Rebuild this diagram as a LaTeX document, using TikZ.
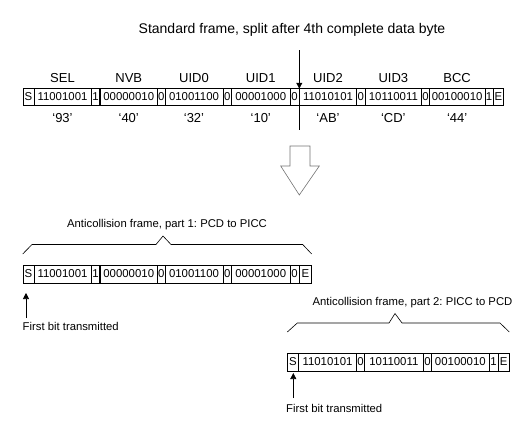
\documentclass[tikz,border=0pt]{standalone}
\usepackage{fontspec}
\setmainfont{Liberation Sans}
\usetikzlibrary{positioning,arrows.meta}
\frenchspacing

\begin{document}
\begin{tikzpicture}[x=1pt,y=-1pt,
  cell/.style={draw,line width=0.6pt,inner sep=0pt,outer sep=0pt,minimum height=16.5pt,font=\fontsize{11.4}{11.4}\selectfont},
  field/.style={font=\fontsize{13}{13}\selectfont},
  note/.style={inner sep=0pt,font=\fontsize{11.3}{11.3}\selectfont},
  pointer/.style={line width=0.6pt,-{Triangle[length=6pt,width=6pt]}}]
\useasboundingbox (0,0) rectangle (532,432);
\node[font=\fontsize{14}{14}\selectfont] (title) at (292,30) {Standard frame, split after 4th complete data byte};

% standard frame
\node[cell,anchor=west,minimum width=11pt] (s) at (23,97) {S};
\node[cell,minimum width=57pt,right=0pt of s] (sel) {11001001};
\node[cell,minimum width=9pt,right=0pt of sel] (p0) {1};
\node[cell,minimum width=57.5pt,right=0pt of p0] (nvb) {00000010};
\node[cell,minimum width=7.5pt,right=0pt of nvb] (p1) {0};
\node[cell,minimum width=58pt,right=0pt of p1] (uid0) {01001100};
\node[cell,minimum width=8.5pt,right=0pt of uid0] (p2) {0};
\node[cell,minimum width=58.5pt,right=0pt of p2] (uid1) {00001000};
\node[cell,minimum width=9.3pt,right=0pt of uid1] (p3) {0};
\node[cell,minimum width=57.4pt,right=0pt of p3] (uid2) {11010101};
\node[cell,minimum width=8.3pt,right=0pt of uid2] (p4) {0};
\node[cell,minimum width=56.7pt,right=0pt of p4] (uid3) {10110011};
\node[cell,minimum width=7.6pt,right=0pt of uid3] (p5) {0};
\node[cell,minimum width=55.7pt,right=0pt of p5] (bcc) {00100010};
\node[cell,minimum width=8.3pt,right=0pt of bcc] (p6) {1};
\node[cell,minimum width=10pt,right=0pt of p6] (e) {E};
\draw[line width=1.4pt] (p0.north east) -- (p0.south east);

\node[field] (nsel) at (sel |- 0,78) {SEL};
\node[field] (nnvb) at (nvb |- 0,78) {NVB};
\node[field] (nuid0) at (uid0 |- 0,78) {UID0};
\node[field] (nuid1) at (uid1 |- 0,78) {UID1};
\node[field] (nuid2) at (uid2 |- 0,78) {UID2};
\node[field] (nuid3) at (uid3 |- 0,78) {UID3};
\node[field] (nbcc) at (bcc |- 0,78) {BCC};

\node[field] (hsel) at (sel |- 0,118) {‘93’};
\node[field] (hnvb) at (nvb |- 0,118) {‘40’};
\node[field] (huid0) at (uid0 |- 0,118) {‘32’};
\node[field] (huid1) at (uid1 |- 0,118) {‘10’};
\node[field] (huid2) at (uid2 |- 0,118) {‘AB’};
\node[field] (huid3) at (uid3 |- 0,118) {‘CD’};
\node[field] (hbcc) at (bcc |- 0,118) {‘44’};

% split marker
\coordinate (splittop) at (p3.east |- 0,50);
\coordinate (splitbot) at (p3.east |- 0,130);
\draw[pointer] (splittop) -- (p3.north east);
\draw[line width=0.6pt] (p3.north east) -- (splitbot);

% hollow arrow
\draw[black!55,line width=0.6pt,fill=white] (290,146) -- (310,146) -- (310,166) -- (319.3,166) -- (299.3,195) -- (280.7,166) -- (290,166) -- cycle;

% part 1
\node[note] (t1) at (167,225) {Anticollision frame, part 1: PCD to PICC};
\draw[line width=0.6pt] (22.7,254) -- (32,244.5) -- (156,244.5) -- (163,236) -- (171,244.5) -- (302.7,244.5) -- (311.7,254);
\node[cell,anchor=west,minimum width=11pt,minimum height=18pt] (as) at (23,274) {S};
\node[cell,minimum width=57pt,minimum height=18pt,right=0pt of as] (asel) {11001001};
\node[cell,minimum width=9pt,minimum height=18pt,right=0pt of asel] (ap0) {1};
\node[cell,minimum width=57.5pt,minimum height=18pt,right=0pt of ap0] (anvb) {00000010};
\node[cell,minimum width=7.5pt,minimum height=18pt,right=0pt of anvb] (ap1) {0};
\node[cell,minimum width=58pt,minimum height=18pt,right=0pt of ap1] (auid0) {01001100};
\node[cell,minimum width=8.5pt,minimum height=18pt,right=0pt of auid0] (ap2) {0};
\node[cell,minimum width=58.5pt,minimum height=18pt,right=0pt of ap2] (auid1) {00001000};
\node[cell,minimum width=9.3pt,minimum height=18pt,right=0pt of auid1] (ap3) {0};
\node[cell,minimum width=12.4pt,minimum height=18pt,right=0pt of ap3] (ae) {E};
\draw[line width=1.4pt] (ap0.north east) -- (ap0.south east);

\node[note,anchor=west] (fb1) at (22.5,326) {First bit transmitted};
\coordinate (fb1base) at (26,318);
\coordinate (fb1tip) at (26,293);
\draw[pointer] (fb1base) -- (fb1tip);

% part 2
\node[note] (t2) at (412.5,303) {Anticollision frame, part 2: PICC to PCD};
\draw[line width=0.6pt] (287.3,332) -- (297.3,323) -- (389,323) -- (395,313.5) -- (402,323) -- (500,323) -- (509.3,332);
\node[cell,anchor=west,minimum width=11pt,minimum height=18pt] (bs) at (287.3,362) {S};
\node[cell,minimum width=58.4pt,minimum height=18pt,right=0pt of bs] (buid2) {11010101};
\node[cell,minimum width=7.8pt,minimum height=18pt,right=0pt of buid2] (bp4) {0};
\node[cell,minimum width=58.8pt,minimum height=18pt,right=0pt of bp4] (buid3) {10110011};
\node[cell,minimum width=8.4pt,minimum height=18pt,right=0pt of buid3] (bp5) {0};
\node[cell,minimum width=57.3pt,minimum height=18pt,right=0pt of bp5] (bbcc) {00100010};
\node[cell,minimum width=9pt,minimum height=18pt,right=0pt of bbcc] (bp6) {1};
\node[cell,minimum width=11.5pt,minimum height=18pt,right=0pt of bp6] (be) {E};

\node[note,anchor=west] (fb2) at (286,408) {First bit transmitted};
\coordinate (fb2base) at (293.3,398);
\coordinate (fb2tip) at (293.3,373);
\draw[pointer] (fb2base) -- (fb2tip);
\end{tikzpicture}
\end{document}
